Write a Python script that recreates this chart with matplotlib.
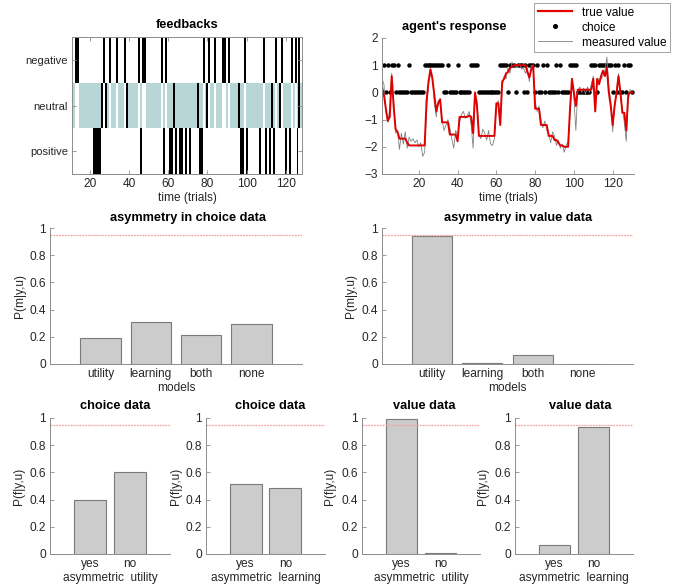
import numpy as np
import matplotlib
matplotlib.use("Agg")
import matplotlib.pyplot as plt
from matplotlib.lines import Line2D

plt.rcParams['font.family'] = ['Liberation Sans', 'DejaVu Sans']

# ---------------- data ----------------
feedback_rows = ["negative", "neutral", "positive"]
n_fb = 128
neg_trials = [13, 14, 27, 30, 34, 38, 45, 47, 48, 57, 59, 78, 81, 84, 88, 89, 91, 99,
              109, 115, 118, 123, 125, 127]
pos_trials = [22, 23, 24, 25, 46, 58, 61, 62, 64, 66, 67, 69, 71, 76, 77, 97, 98, 100,
              107, 110, 112, 114, 120, 122, 126]
neu_dark_trials = [26, 28, 39, 63, 75, 80, 96, 113, 117, 127]

trials = list(range(1, 131))
choice = [0, 1, 0, 1, 0, 1, 1, 0, 1, 0,
          0, 0, 0, 0, 1, 0, 0, 0, 0, 0,
          0, 0, 1, 1, 1, 1, 1, 1, 1, 1,
          1, 1, 0, 0, 1, 0, 0, 0, 0, 1,
          0, 0, 0, 0, 0, 0, 1, 1, 1, 1,
          0, 0, 0, 0, 0, 0, 0, 0, 0, 0,
          0, 1, 1, 1, 1, 0, 1, 1, 1, 0,
          1, 1, 1, 0, 1, 0, 1, 1, 1, 0,
          1, 0, 0, 1, 0, 1, 0, 0, 0, 0,
          1, 0, 1, 0, 0, 0, 0, 1, 1, 1,
          1, 0, 0, 0, 0, 0, 0, 0, 1, 1,
          1, 0, 1, 1, 1, 1, 1, 1, 1, 0,
          1, 0, 1, 0, 0, 1, 0, 1, 1, 0]
true_value = [0.2, -0.1, -0.6, -1.05, -0.9, 0.6, -0.5, -1.35, -1.45, -1.7,
              -1.7, -1.7, -1.7, -1.85, -1.95, -1.95, -1.95, -1.95, -1.95, -1.95,
              -1.95, -1.95, -1.95, -0.3, 0.4, 0.85, 0.5, -0.1, -0.7, -0.4,
              -0.25, -1.1, -1.1, -1.1, -1.1, -1.55, -1.55, -1.55, -1.55, -1.8,
              -0.9, -0.9, -0.9, -0.9, -0.9, -0.85, -0.9, -1.5, 0.0, -0.5,
              -1.6, -1.6, -1.6, -1.6, -1.6, -1.6, -1.6, -1.6, -1.6, -0.4,
              -0.4, -1.2, 0.4, 0.5, 0.7, 0.75, 0.9, 0.95, 1.0, 1.0,
              1.0, 1.0, 1.0, 1.0, 1.0, 0.75, 0.55, 0.85, 1.0, -0.6,
              -0.6, -0.6, -1.2, -1.2, -1.2, -1.2, -1.6, -1.6, -1.6, -1.75,
              -1.75, -1.85, -1.95, -1.95, -2.0, -2.0, -2.0, -0.6, 0.5, 0.0,
              -0.5, 0.1, 0.1, 0.1, 0.1, 0.1, 0.1, 0.1, 0.1, 0.5,
              -0.7, 0.5, 0.3, 0.6, 0.8, 0.6, 0.9, 0.0, -0.5, -1.2,
              -0.5, 0.0, 0.6, 0.0, -0.75, -0.75, -1.4, -0.1, 0.0, 0.0]
measured_value = [0.5, 0.3, -0.7, -1.1, -0.6, 0.7, -0.3, -1.5, -1.4, -2.1,
                  -1.5, -1.9, -1.45, -2.05, -1.65, -1.8, -1.7, -1.85, -1.75, -2.0,
                  -1.85, -2.35, -2.2, -0.6, 0.3, 0.75, 0.6, -0.4, -0.9, -0.3,
                  -0.4, -1.0, -1.4, -1.2, -1.0, -1.3, -1.7, -2.05, -1.4, -1.6,
                  -1.1, -0.8, -0.7, -0.95, -0.85, -0.7, -1.2, -2.05, -0.1, -0.3,
                  -1.55, -1.7, -1.35, -1.5, -1.75, -1.4, -1.9, -1.95, -1.7, -0.5,
                  -0.3, -1.1, 0.2, 0.6, 0.5, 0.9, 0.7, 1.1, 1.05, 0.9,
                  0.95, 1.05, 0.85, 0.9, 0.7, 0.9, 0.4, 1.0, 0.8, -0.3,
                  -0.7, -0.5, -1.0, -1.3, -1.05, -1.4, -1.5, -1.85, -1.45, -1.6,
                  -1.95, -1.75, -2.05, -1.9, -2.2, -1.95, -1.8, -0.8, 0.4, -0.2,
                  -1.4, 0.05, 0.2, 0.0, 0.15, -0.05, 0.2, 0.0, 0.3, 0.6,
                  -0.6, 0.4, 0.5, 0.5, 0.6, 0.8, 1.3, 0.2, -0.3, -1.45,
                  -0.4, -0.1, 0.7, -0.2, -0.6, -1.1, -1.8, -0.3, 0.1, 0.05]

models = ["utility", "learning", "both", "none"]
pm_choice = [0.19, 0.31, 0.215, 0.295]
pm_value = [0.94, 0.01, 0.065, 0.002]

family_ticks = ["yes", "no"]
pf_choice_utility = [0.40, 0.60]
pf_choice_learning = [0.515, 0.485]
pf_value_utility = [0.995, 0.005]
pf_value_learning = [0.065, 0.935]
threshold = 0.95

# ---------------- style ----------------
W, H = 675, 587
fig = plt.figure(figsize=(W / 100, H / 100), dpi=100)
AXC = '#8c8c8c'
TXT = '#262626'
BAR_FACE = '#cccccc'
BAR_EDGE = '#7a7a7a'
TEAL = '#b9d6d6'
FS_TICK = 8.6
FS_TITLE = 9.2


def add_ax(x0, x1, y0, y1):
    return fig.add_axes([x0 / W, 1 - y1 / H, (x1 - x0) / W, (y1 - y0) / H])


def style(ax, box=False):
    for s in ['top', 'right']:
        ax.spines[s].set_visible(box)
    for s in ax.spines.values():
        s.set_color(AXC)
        s.set_linewidth(0.7)
    ax.tick_params(direction='in', length=3, width=0.6, color=AXC,
                   labelsize=FS_TICK, labelcolor=TXT, pad=3)
    if box:
        ax.tick_params(top=True, right=True)


def title(ax, text, xpix, ypix):
    fig.text(xpix / W, 1 - ypix / H, text, ha='center', va='center',
             fontsize=FS_TITLE, fontweight='bold', color='black')


# ---------------- feedbacks ----------------
ax = add_ax(72, 302, 37, 174)
img = np.ones((3, n_fb, 3))
teal_rgb = np.array(matplotlib.colors.to_rgb(TEAL))
for t in range(1, n_fb + 1):
    if t not in neg_trials:
        img[1, t - 1] = teal_rgb
for t in neg_trials:
    img[0, t - 1] = 0.0
for t in pos_trials:
    img[2, t - 1] = 0.0
for t in neu_dark_trials:
    img[1, t - 1] = 0.0
ax.imshow(img, aspect='auto', interpolation='nearest',
          extent=[0.5, n_fb + 0.5, 3.5, 0.5])
ax.set_xlim(10.8, 128.3)
ax.set_ylim(3.5, 0.5)
ax.set_yticks([1, 2, 3])
ax.set_yticklabels(feedback_rows)
ax.tick_params(axis='y', labelsize=8.2)
ax.set_xticks([20, 40, 60, 80, 100, 120])
style(ax, box=True)
ax.tick_params(axis='y', labelsize=8.0)
ax.set_xlabel("time (trials)", fontsize=FS_TICK, color=TXT, labelpad=1)
title(ax, "feedbacks", 187, 25)

# ---------------- agent's response ----------------
ax = add_ax(382, 634, 38, 174)
ax.plot(trials, choice, linestyle='none', marker='o', ms=2.2, color='black',
        label='choice')
ax.plot(trials, measured_value, color='#808080', lw=0.6, label='measured value')
ax.plot(trials, true_value, color='#e00000', lw=1.4, label='true value')
ax.set_xlim(1, 131)
ax.set_ylim(-3, 2)
ax.set_yticks([-3, -2, -1, 0, 1, 2])
ax.set_xticks([20, 40, 60, 80, 100, 120])
style(ax)
ax.set_xlabel("time (trials)", fontsize=FS_TICK, color=TXT, labelpad=1)
title(ax, "agent's response", 454, 27)
handles = [Line2D([], [], color='#e00000', lw=1.6),
           Line2D([], [], color='black', marker='o', ms=2.6, linestyle='none'),
           Line2D([], [], color='#808080', lw=0.6)]
leg = fig.legend(handles, ["true value", "choice", "measured value"],
                 loc='upper right', bbox_to_anchor=(670 / W, 1 - 3 / H),
                 fontsize=8.6, frameon=True, fancybox=False, handlelength=2.9,
                 borderpad=0.3, labelspacing=0.25, handletextpad=0.8,
                 borderaxespad=0)
leg.get_frame().set_edgecolor('#8c8c8c')
leg.get_frame().set_linewidth(0.7)


# ---------------- model bars ----------------
def bar_panel(x0, x1, y0, y1, labels, vals, ylabel, xlabel, ttl, tx, ty, ylab_x):
    ax = add_ax(x0, x1, y0, y1)
    pos = np.arange(1, len(vals) + 1)
    ax.bar(pos, vals, width=0.8, color=BAR_FACE, edgecolor=BAR_EDGE, linewidth=0.8)
    ax.axhline(threshold, color='#f5a3a3', lw=0.9, linestyle=(0, (1.5, 0.8)))
    ax.set_xlim(0, len(vals) + 1)
    ax.set_ylim(0, 1)
    ax.set_yticks([0, 0.2, 0.4, 0.6, 0.8, 1])
    ax.set_yticklabels(['0', '0.2', '0.4', '0.6', '0.8', '1'])
    ax.set_xticks(pos)
    ax.set_xticklabels(labels)
    style(ax)
    ax.tick_params(axis='x', length=0)
    ax.set_xlabel(xlabel, fontsize=FS_TICK, color=TXT, labelpad=1)
    fig.text(ylab_x / W, 1 - (y0 + y1) / 2 / H, ylabel, rotation=90,
             ha='center', va='center', fontsize=FS_TICK, color=TXT)
    title(ax, ttl, tx, ty)
    return ax


bar_panel(50, 302, 228, 364, models, pm_choice, "P(m|y,u)", "models",
          "asymmetry in choice data", 188, 218, 20)
bar_panel(382, 633, 228, 364, models, pm_value, "P(m|y,u)", "models",
          "asymmetry in value data", 518, 218, 351)

bar_panel(50, 170, 418, 554, family_ticks, pf_choice_utility, "P(f|y,u)",
          "asymmetric  utility", "choice data", 115, 406, 19)
bar_panel(206, 325, 418, 554, family_ticks, pf_choice_learning, "P(f|y,u)",
          "asymmetric  learning", "choice data", 270, 406, 176)
bar_panel(362, 480, 418, 554, family_ticks, pf_value_utility, "P(f|y,u)",
          "asymmetric  utility", "value data", 424, 406, 330)
bar_panel(515, 633, 418, 554, family_ticks, pf_value_learning, "P(f|y,u)",
          "asymmetric  learning", "value data", 580, 406, 483)

fig.savefig("out.png", dpi=100)
